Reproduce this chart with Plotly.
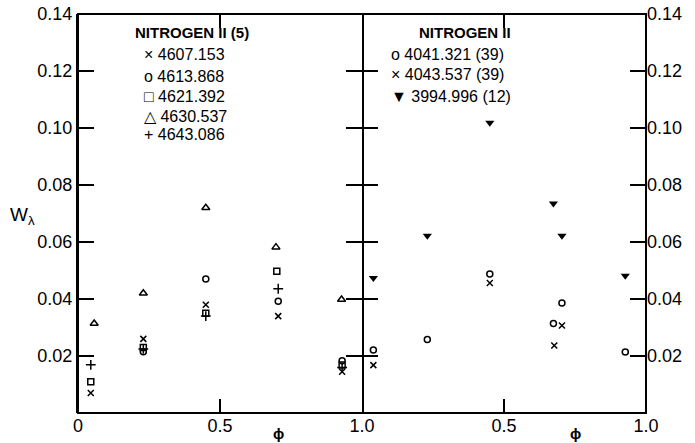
import plotly.graph_objects as go

# ---------------- data ----------------
# Left panel: NITROGEN II (5), phase 0..1
n5_4607_phase = [0.045, 0.23, 0.45, 0.705, 0.93]
n5_4607_w = [0.007, 0.026, 0.038, 0.034, 0.0145]
n5_4613_phase = [0.23, 0.45, 0.705, 0.93]
n5_4613_w = [0.0215, 0.047, 0.0392, 0.0183]
n5_4621_phase = [0.045, 0.23, 0.45, 0.70, 0.93]
n5_4621_w = [0.011, 0.023, 0.035, 0.0497, 0.0168]
n5_4630_phase = [0.057, 0.23, 0.45, 0.697, 0.928]
n5_4630_w = [0.0314, 0.042, 0.072, 0.0582, 0.0398]
n5_4643_phase = [0.045, 0.23, 0.45, 0.705, 0.93]
n5_4643_w = [0.0169, 0.0225, 0.034, 0.0436, 0.016]

# Right panel: NITROGEN II, phase 0..1 (second cycle)
n_4041_phase = [0.04, 0.23, 0.45, 0.674, 0.704, 0.927]
n_4041_w = [0.0221, 0.0258, 0.0488, 0.0314, 0.0386, 0.0214]
n_4043_phase = [0.04, 0.45, 0.677, 0.704]
n_4043_w = [0.0168, 0.0456, 0.0237, 0.0307]
n_3994_phase = [0.04, 0.23, 0.45, 0.674, 0.704, 0.927]
n_3994_w = [0.0474, 0.0622, 0.1018, 0.0735, 0.0622, 0.0482]

y_tickvals = [0.02, 0.04, 0.06, 0.08, 0.10, 0.12, 0.14]
y_ticktext = ["0.02", "0.04", "0.06", "0.08", "0.10", "0.12", "0.14"]
left_x_tickvals = [0, 0.5, 1.0]
left_x_ticktext = ["0", "0.5", "1.0"]
right_x_tickvals = [0.5, 1.0]
right_x_ticktext = ["0.5", "1.0"]
x_mid_tick = [0.5]

left_title = "NITROGEN II (5)"
left_entries = ["× 4607.153", "o 4613.868", "□ 4621.392", "△ 4630.537", "+ 4643.086"]
right_title = "NITROGEN II"
right_entries = ["o 4041.321 (39)", "× 4043.537 (39)", "▼ 3994.996 (12)"]

# ---------------- figure ----------------
W, H = 695, 443
ML, MR, MT, MB = 78, 49, 14, 30
FONT = "Liberation Sans, Arial, Helvetica, sans-serif"
BLACK = "black"

fig = go.Figure()

def add(xs, ys, symbol, size, xa, ya, lw=1.5):
    fig.add_trace(go.Scatter(
        x=xs, y=ys, mode="markers", xaxis=xa, yaxis=ya, showlegend=False,
        marker=dict(symbol=symbol, size=size, color=BLACK,
                    line=dict(color=BLACK, width=lw)),
        hoverinfo="x+y"))

add(n5_4607_phase, n5_4607_w, "x-thin-open", 6, "x", "y")
add(n5_4613_phase, n5_4613_w, "circle-open", 6, "x", "y")
add(n5_4621_phase, n5_4621_w, "square-open", 6, "x", "y")
add(n5_4630_phase, n5_4630_w, "triangle-up-open", 7, "x", "y")
add(n5_4643_phase, n5_4643_w, "cross-thin-open", 7, "x", "y")

add(n_4041_phase, n_4041_w, "circle-open", 6, "x2", "y2")
add(n_4043_phase, n_4043_w, "x-thin-open", 6, "x2", "y2")
add(n_3994_phase, n_3994_w, "triangle-down", 8, "x2", "y2", lw=0)

# empty helper traces so the tick-only overlay axes get rendered
for xa, ya in [("x", "y3"), ("x2", "y4"), ("x3", "y"), ("x4", "y2")]:
    fig.add_trace(go.Scatter(x=[None], y=[None], mode="markers", xaxis=xa,
                             yaxis=ya, showlegend=False, hoverinfo="skip"))

tickfont = dict(family=FONT, size=18, color=BLACK)
base = dict(showgrid=False, zeroline=False, tickwidth=2, tickcolor=BLACK,
            linewidth=2, linecolor=BLACK, automargin=False)
yr = [0, 0.14]
xr = [0, 1]

fig.update_layout(
    width=W, height=H,
    margin=dict(l=ML, r=MR, t=MT, b=MB, autoexpand=False),
    paper_bgcolor="white", plot_bgcolor="rgba(0,0,0,0)",
    font=dict(family=FONT, color=BLACK),
    showlegend=False,
    # label axes
    xaxis=dict(domain=[0, 0.5], range=xr, anchor="y",
               tickvals=left_x_tickvals, ticktext=left_x_ticktext,
               ticks="", showline=False, tickfont=tickfont, **base),
    xaxis2=dict(domain=[0.5, 1], range=xr, anchor="y2",
                tickvals=right_x_tickvals, ticktext=right_x_ticktext,
                ticks="", showline=False, tickfont=tickfont, **base),
    yaxis=dict(range=yr, anchor="x", tickvals=y_tickvals, ticktext=y_ticktext,
               ticks="inside", ticklen=10, mirror="ticks", showline=True,
               tickfont=tickfont, **base),
    yaxis2=dict(range=yr, anchor="x2", side="right",
                tickvals=y_tickvals, ticktext=y_ticktext,
                ticks="inside", ticklen=10, mirror="ticks", showline=False,
                tickfont=tickfont, **base),
    # tick-only axes: mirrored ticks land on the outer frame
    yaxis3=dict(range=yr, overlaying="y", anchor="x", side="right",
                tickvals=y_tickvals, showticklabels=False,
                ticks="inside", ticklen=16, mirror="ticks", showline=False,
                **base),
    yaxis4=dict(range=yr, overlaying="y2", anchor="x2", side="left",
                tickvals=y_tickvals, showticklabels=False,
                ticks="inside", ticklen=16, mirror="ticks", showline=False,
                **base),
    xaxis3=dict(range=xr, overlaying="x", anchor="y", side="top",
                tickvals=x_mid_tick, showticklabels=False,
                ticks="inside", ticklen=14, mirror="ticks", showline=False,
                **base),
    xaxis4=dict(range=xr, overlaying="x2", anchor="y2", side="top",
                tickvals=x_mid_tick, showticklabels=False,
                ticks="inside", ticklen=14, mirror="ticks", showline=False,
                **base),
)

# plot frame
fig.add_shape(type="rect", xref="paper", yref="paper", x0=0, x1=1, y0=0, y1=1,
              line=dict(color=BLACK, width=2), layer="above")

PW = W - ML - MR
PH = H - MT - MB

def px(xp):
    return (xp - ML) / PW

def py(yp):
    return 1 - (yp - MT) / PH

ann = []
def txt(text, x, y, size, xanchor="left", bold=False):
    ann.append(dict(text=("<b>%s</b>" % text) if bold else text,
                    x=px(x), y=py(y), xref="paper", yref="paper",
                    xanchor=xanchor, yanchor="middle", showarrow=False,
                    font=dict(family=FONT, size=size, color=BLACK)))

txt(left_title, 133, 32, 15, bold=True)
for i, s in enumerate(left_entries):
    txt(s, 142, [55, 76, 96, 116, 135][i], 16)
txt(right_title, 417, 32, 15, bold=True)
for i, s in enumerate(right_entries):
    txt(s, 389, [55, 75, 96][i], 16)

txt("W<sub>λ</sub>", 8, 216, 19)
txt("ϕ", 278, 433, 15, xanchor="center", bold=True)
txt("ϕ", 575, 433, 15, xanchor="center", bold=True)

fig.update_layout(annotations=ann)

fig.write_html("out.html")
